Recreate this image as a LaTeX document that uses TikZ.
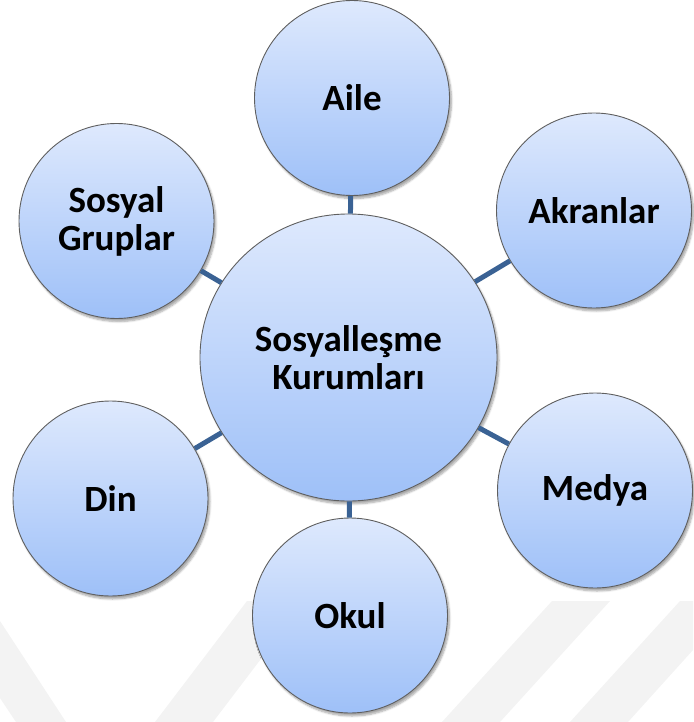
\documentclass[tikz,border=0pt]{standalone}
\usepackage{fontspec}
\setmainfont{Carlito}
\usetikzlibrary{shapes.geometric,shadows.blur}
\definecolor{topblue}{RGB}{222,233,253}
\definecolor{botblue}{RGB}{158,192,248}
\definecolor{linkblue}{RGB}{58,98,148}
\definecolor{rimgray}{RGB}{95,95,95}
\definecolor{wmgray}{RGB}{243,243,243}
\tikzset{
  bubble/.style={circle, draw=rimgray, line width=0.9pt, minimum size=195pt, inner sep=0pt,
    top color=topblue, bottom color=botblue, align=center,
    font=\fontsize{37}{38}\selectfont\bfseries,
    blur shadow={shadow xshift=2pt, shadow yshift=-3pt, shadow blur steps=6, shadow opacity=35}},
  hub/.style={bubble, ellipse, minimum width=297pt, minimum height=287pt},
  link/.style={draw=linkblue, line width=5pt},
  wm/.style={fill=wmgray, draw=none}
}
\begin{document}
\begin{tikzpicture}[x=1pt,y=-1pt]
\useasboundingbox (0,0) rectangle (693,722);
% faint background watermark
\fill[wm] (0,621) -- (66,722) -- (16,722) -- (0,698) -- cycle;
\fill[wm] (155,722) -- (247,601) -- (305,601) -- (213,722) -- cycle;
\fill[wm] (442,722) -- (552,601) -- (610,601) -- (500,722) -- cycle;
\fill[wm] (570,722) -- (680,601) -- (693,601) -- (693,650) -- (628,722) -- cycle;
% nodes
\node[hub] (c) at (348.5,357.5) {Sosyalleşme\\Kurumları};
\node[bubble] (aile) at (352,98) {Aile};
\node[bubble] (akr) at (594,210.5) {Akranlar};
\node[bubble] (med) at (595,490.5) {Medya};
\node[bubble] (okul) at (350,615.5) {Okul};
\node[bubble] (din) at (110.5,498.5) {Din};
\node[bubble] (sg) at (116.5,221) {Sosyal\\Gruplar};
% connectors
\draw[link] (c) -- (aile);
\draw[link] (c) -- (akr);
\draw[link] (c) -- (med);
\draw[link] (c) -- (okul);
\draw[link] (c) -- (din);
\draw[link] (c) -- (sg);
\end{tikzpicture}
\end{document}
